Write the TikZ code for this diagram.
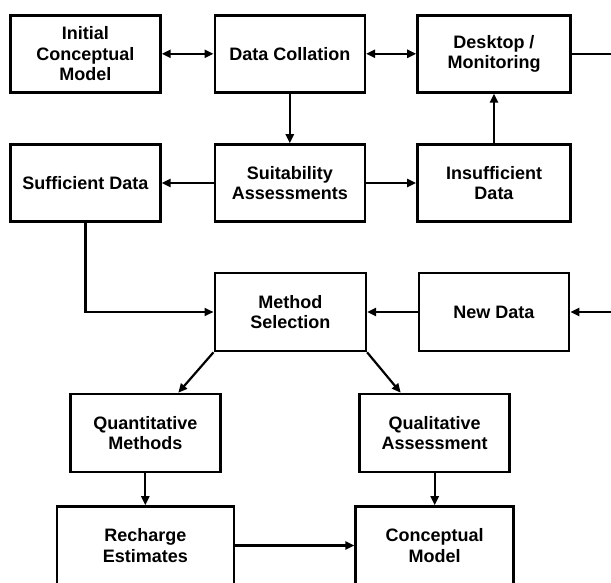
\documentclass[tikz,border=0pt]{standalone}
\usepackage{fontspec}
\setmainfont{Liberation Sans}
\usetikzlibrary{arrows.meta}
\begin{document}
\begin{tikzpicture}[x=1pt,y=-1pt,
  box/.style={draw, line width=2.6pt, rectangle, minimum height=77pt, align=center,
    font=\fontsize{18}{20.5}\selectfont\bfseries, inner sep=0pt},
  tip/.tip={Triangle[length=9pt,width=8pt]},
  arr/.style={line width=2.2pt, -tip},
  dbl/.style={line width=2.2pt, tip-tip},
  ln/.style={line width=2.2pt}]
\fill[white] (0,0) rectangle (611,583);
\clip (0,0) rectangle (611,583);
% row 1
\node[box, minimum width=150pt] (A) at (85.4,53.8) {Initial\\Conceptual\\Model};
\node[box, minimum width=150pt] (B) at (289.8,53.8) {Data Collation};
\node[box, minimum width=153pt] (C) at (494,53.8) {Desktop /\\Monitoring};
% row 2
\node[box, minimum width=150pt] (D) at (85.4,183) {Sufficient Data};
\node[box, minimum width=150pt] (E) at (289.8,183) {Suitability\\Assessments};
\node[box, minimum width=153pt] (F) at (494,183) {Insufficient\\Data};
% row 3
\node[box, minimum width=151pt, minimum height=78pt] (G) at (290.3,312) {Method\\Selection};
\node[box, minimum width=150pt, minimum height=78pt] (H) at (494,312) {New Data};
% row 4
\node[box, minimum width=150pt, minimum height=78pt] (I) at (145.3,433) {Quantitative\\Methods};
\node[box, minimum width=150pt, minimum height=78pt] (J) at (434.7,433) {Qualitative\\Assessment};
% row 5
\node[box, minimum width=177pt, minimum height=78pt] (K) at (145.3,545.5) {Recharge\\Estimates};
\node[box, minimum width=158pt, minimum height=78pt] (L) at (434.7,545.5) {Conceptual\\Model};
% off-picture ends
\coordinate (cR) at (616,53.8);
\coordinate (nR) at (616,312);
% connectors
\draw[dbl] (A.east) -- (B.west);
\draw[dbl] (B.east) -- (C.west);
\draw[ln] (C.east) -- (cR);
\draw[arr] (B.south) -- (E.north);
\draw[arr] (F.north) -- (C.south);
\draw[arr] (E.west) -- (D.east);
\draw[arr] (E.east) -- (F.west);
\draw[arr] (D.south) |- (G.west);
\draw[arr] (H.west) -- (G.east);
\draw[arr] (nR) -- (H.east);
\draw[arr] (G.south west) -- ([xshift=33pt]I.north);
\draw[arr] (G.south east) -- ([xshift=-34pt]J.north);
\draw[arr] (I.south) -- (K.north);
\draw[arr] (J.south) -- (L.north);
\draw[arr] (K.east) -- (L.west);
\end{tikzpicture}
\end{document}
